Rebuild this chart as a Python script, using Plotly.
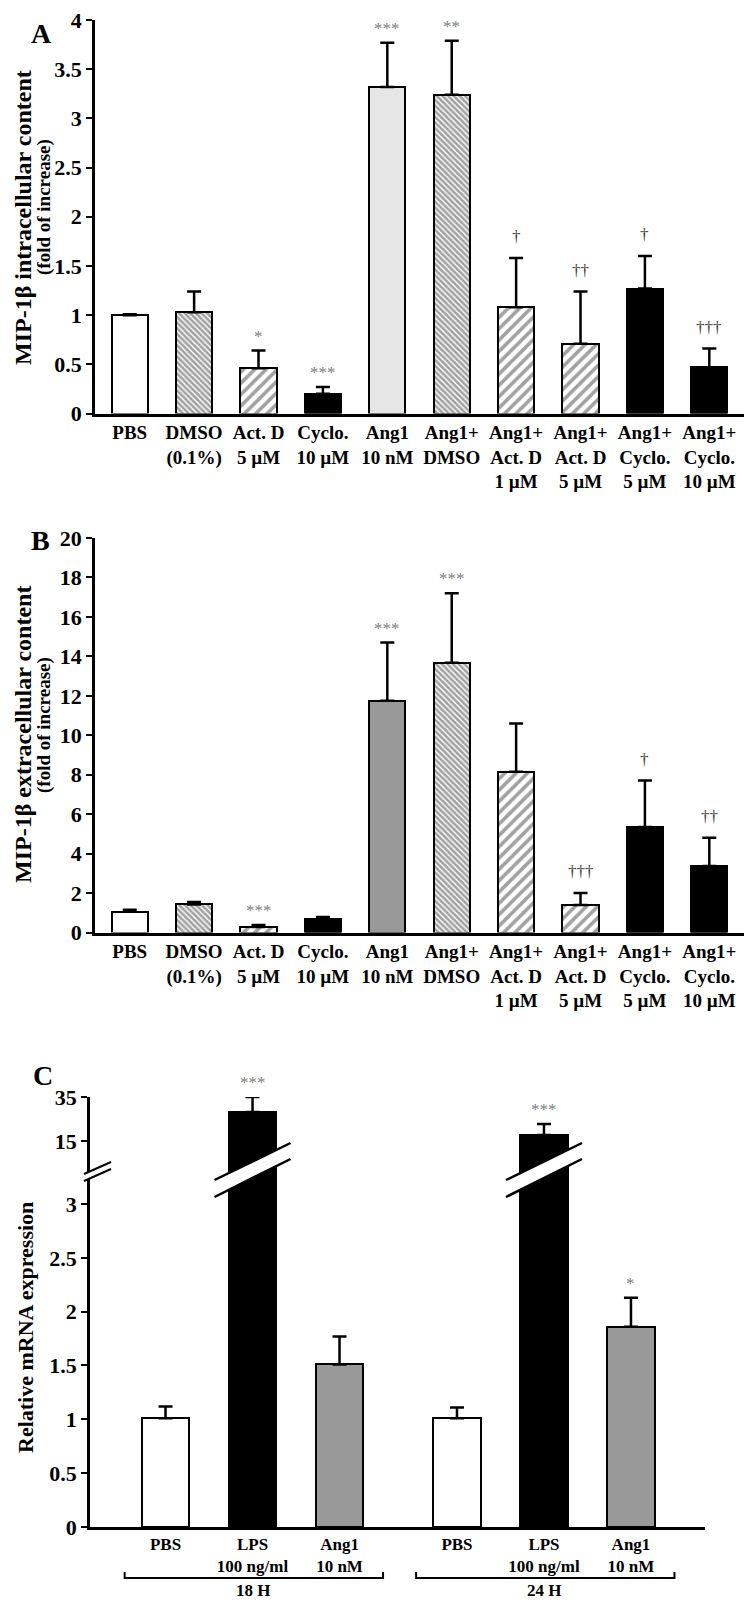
import plotly.graph_objects as go

# The page body has an 8px default margin; size the figure to fit the window.
OFF = 8
W, H = 752 - OFF, 1600 - OFF
def fx(p):
    return (p - OFF) / W
def fy(p):
    return 1 - (p - OFF) / H

FONT = "Liberation Serif"

# ---------------- data ----------------
cats_ab = ["PBS", "DMSO<br>(0.1%)", "Act. D<br>5 µM", "Cyclo.<br>10 µM", "Ang1<br>10 nM",
           "Ang1+<br>DMSO", "Ang1+<br>Act. D<br>1 µM", "Ang1+<br>Act. D<br>5 µM",
           "Ang1+<br>Cyclo.<br>5 µM", "Ang1+<br>Cyclo.<br>10 µM"]
a_mean = [1.00, 1.03, 0.46, 0.20, 3.32, 3.24, 1.08, 0.71, 1.27, 0.47]
a_top = [1.01, 1.24, 0.64, 0.27, 3.77, 3.79, 1.58, 1.24, 1.60, 0.66]
a_sig = ["", "", "*", "***", "***", "**", "†", "††", "†", "†††"]

b_mean = [1.05, 1.42, 0.28, 0.68, 11.75, 13.67, 8.15, 1.40, 5.35, 3.37]
b_top = [1.15, 1.55, 0.38, 0.78, 14.70, 17.20, 10.60, 2.00, 7.70, 4.80]
b_sig = ["", "", "***", "", "***", "***", "", "†††", "†", "††"]

c_groups = ["18 H", "24 H"]
c_cats = ["PBS", "LPS<br>100 ng/ml", "Ang1<br>10 nM"]
c_mean = [[1.01, 28.2, 1.51], [1.01, 17.7, 1.86]]
c_top = [[1.12, 35.0, 1.77], [1.11, 22.7, 2.13]]
c_sig = [["", "***", ""], ["", "***", "*"]]

ya_ticks = [0, 0.5, 1, 1.5, 2, 2.5, 3, 3.5, 4]
yb_ticks = [0, 2, 4, 6, 8, 10, 12, 14, 16, 18, 20]
yc_low_ticks = [0, 0.5, 1, 1.5, 2, 2.5, 3]
yc_high_ticks = [15, 35]

# ---------------- styles ----------------
pat_ab = ["", "\\", "/", "", "", "\\", "/", "/", "", ""]
pat_size = [4 if p == "\\" else 8 for p in pat_ab]
pat_sol = [0.65 if p == "\\" else 0.45 for p in pat_ab]
col_a = ["white", "white", "white", "black", "#e6e6e6", "white", "white", "white", "black", "black"]
col_b = ["white", "white", "white", "black", "#999999", "white", "white", "white", "black", "black"]
col_c = ["white", "black", "#999999"]

def sig_font(s):
    return dict(family=FONT, size=17, color=("#3a3a3a" if "†" in s else "#808080"))

fig = go.Figure()

def add_panel(xa, ya, means, tops, colors, sigs, cats):
    fig.add_trace(go.Bar(
        x=cats, y=means, width=0.56, xaxis=xa, yaxis=ya,
        marker=dict(color=colors, line=dict(color="black", width=2),
                    pattern=dict(shape=pat_ab, size=pat_size, solidity=pat_sol,
                                 fgcolor="black", fillmode="overlay")),
        error_y=dict(type="data", symmetric=False,
                     array=[t - m for t, m in zip(tops, means)],
                     arrayminus=[0] * len(means), color="black", thickness=2.5, width=7),
        showlegend=False))
    for c, t, s in zip(cats, tops, sigs):
        if s:
            fig.add_annotation(x=c, y=t, xref=xa, yref=ya, text=s, showarrow=False,
                               yanchor="bottom", yshift=(10 if "†" in s else 3),
                               font=sig_font(s))

add_panel("x", "y", a_mean, a_top, col_a, a_sig, cats_ab)
add_panel("x2", "y2", b_mean, b_top, col_b, b_sig, cats_ab)

# ---------------- panel C (broken axis) ----------------
LOW_TOP_PX, HIGH_BOT_PX = 1169, 1173      # lower / upper segment edges (slight overlap)
c_low_max = 3 + (1204 - LOW_TOP_PX) / 107.8
c_high_min = 35 - (HIGH_BOT_PX - 1097) * 20 / 44.0
c_xaxes = ["x3", "x4"]
for g, xa in enumerate(c_xaxes):
    means = c_mean[g]
    tops = c_top[g]
    err_low = [(t - m) if m <= c_low_max else None for t, m in zip(tops, means)]
    fig.add_trace(go.Bar(
        x=c_cats, y=means, width=0.55, xaxis=xa, yaxis="y3",
        marker=dict(color=col_c, line=dict(color="black", width=2)),
        error_y=dict(type="data", symmetric=False, array=err_low,
                     arrayminus=[0] * 3, color="black", thickness=2.5, width=7),
        showlegend=False))
    hi = [i for i, m in enumerate(means) if m > c_low_max]
    fig.add_trace(go.Bar(
        x=[c_cats[i] for i in hi], y=[means[i] for i in hi], width=0.55, xaxis=xa, yaxis="y4",
        marker=dict(color=[col_c[i] for i in hi], line=dict(color="black", width=2)),
        error_y=dict(type="data", symmetric=False,
                     array=[tops[i] - means[i] for i in hi],
                     arrayminus=[0] * len(hi), color="black", thickness=2.5, width=7),
        showlegend=False))
    for i, (m, t, s) in enumerate(zip(means, tops, c_sig[g])):
        if s:
            fig.add_annotation(x=c_cats[i], y=t, xref=xa, yref=("y4" if m > c_low_max else "y3"),
                               text=s, showarrow=False, yanchor="bottom", yshift=3,
                               font=sig_font(s))
    # break band across the tall bar(s)
    for i in hi:
        hw = 38 / 87.0
        u_l, u_r = fy(1180), fy(1143)
        l_l, l_r = fy(1197), fy(1159)
        fig.add_shape(type="path", xref=xa, yref="paper",
                      path=f"M {i-hw},{u_l} L {i+hw},{u_r} L {i+hw},{l_r} L {i-hw},{l_l} Z",
                      fillcolor="white", line=dict(width=0), layer="above")
        fig.add_shape(type="line", xref=xa, yref="paper", x0=i - hw, x1=i + hw,
                      y0=u_l, y1=u_r, line=dict(color="black", width=2.5), layer="above")
        fig.add_shape(type="line", xref=xa, yref="paper", x0=i - hw, x1=i + hw,
                      y0=l_l, y1=l_r, line=dict(color="black", width=2.5), layer="above")
    # group bracket
    fig.add_shape(type="path", xref=xa, yref="paper",
                  path=f"M -0.47,{fy(1572)} L -0.47,{fy(1578)} L 2.5,{fy(1578)} L 2.5,{fy(1572)}",
                  line=dict(color="black", width=2), layer="above")
    fig.add_annotation(x=1, y=fy(1580), xref=xa, yref="paper", text=c_groups[g],
                       showarrow=False, yanchor="top", borderpad=0,
                       font=dict(family=FONT, size=17, color="black", weight="bold"))

# axis break marks on the y axis
fig.add_shape(type="path", xref="paper", yref="paper",
              path=f"M {fx(84)},{fy(1174)} L {fx(111)},{fy(1162)} L {fx(111)},{fy(1169)} L {fx(84)},{fy(1181)} Z",
              fillcolor="white", line=dict(width=0), layer="above")
fig.add_shape(type="line", xref="paper", yref="paper", x0=fx(84), x1=fx(111), y0=fy(1174), y1=fy(1162),
              line=dict(color="black", width=2), layer="above")
fig.add_shape(type="line", xref="paper", yref="paper", x0=fx(84), x1=fx(111), y0=fy(1181), y1=fy(1169),
              line=dict(color="black", width=2), layer="above")

# ---------------- axes ----------------
yax = dict(showline=True, linecolor="black", linewidth=2.5, ticks="outside", ticklen=6,
           tickwidth=2, tickcolor="black", showgrid=False, zeroline=False,
           ticklabeloverflow="allow",
           tickfont=dict(family=FONT, size=22, color="black", weight="bold"))
xax = dict(showline=True, linecolor="black", linewidth=2.5, ticks="", showgrid=False,
           zeroline=False, type="category", ticklabeloverflow="allow",
           tickfont=dict(family=FONT, size=19, color="black", weight="bold"))
cfont = dict(family=FONT, size=17, color="black", weight="bold")

fig.update_layout(
    width=W, height=H, margin=dict(l=0, r=0, t=0, b=0, autoexpand=False),
    paper_bgcolor="white", plot_bgcolor="white", bargap=0,
    font=dict(family=FONT, color="black"),
    xaxis=dict(xax, domain=[fx(95), fx(745)], anchor="y", range=[-0.539, 9.554],
               categoryorder="array", categoryarray=cats_ab),
    yaxis=dict(yax, domain=[fy(413.5), fy(20)], anchor="x", range=[0, 4], tickvals=ya_ticks),
    xaxis2=dict(xax, domain=[fx(95), fx(745)], anchor="y2", range=[-0.539, 9.554],
                categoryorder="array", categoryarray=cats_ab),
    yaxis2=dict(yax, domain=[fy(932.5), fy(538)], anchor="x2", range=[0, 20], tickvals=yb_ticks),
    xaxis3=dict(xax, domain=[fx(90), fx(398)], anchor="y3", range=[-0.868, 2.672],
                categoryorder="array", categoryarray=c_cats, tickfont=cfont),
    xaxis4=dict(xax, domain=[fx(398), fx(705)], anchor="y3", range=[-0.678, 2.851],
                categoryorder="array", categoryarray=c_cats, tickfont=cfont),
    yaxis3=dict(yax, domain=[fy(1527), fy(LOW_TOP_PX)], anchor="x3", range=[0, c_low_max],
                tickvals=yc_low_ticks),
    yaxis4=dict(yax, domain=[fy(HIGH_BOT_PX), fy(1097)], anchor="x3", range=[c_high_min, 35],
                tickvals=yc_high_ticks),
)

# titles and panel letters
def vtitle(text, xp, yp, size):
    fig.add_annotation(x=fx(xp), y=fy(yp), xref="paper", yref="paper", text=text,
                       textangle=-90, showarrow=False, xanchor="center", yanchor="middle",
                       font=dict(family=FONT, size=size, color="black", weight="bold"))

vtitle("MIP-1β intracellular content", 23, 218, 24)
vtitle("(fold of increase)", 44, 207, 19)
vtitle("MIP-1β extracellular content", 23, 735, 24)
vtitle("(fold of increase)", 44, 725, 19)
vtitle("Relative mRNA expression", 25, 1328, 22)

for letter, xp, yp in [("A", 29, 16), ("B", 29, 540), ("C", 31, 1093)]:
    fig.add_annotation(x=fx(xp), y=fy(yp), xref="paper", yref="paper", text=letter,
                       showarrow=False, font=dict(family=FONT, size=28, color="black", weight="bold"))

fig.write_html("out.html")
